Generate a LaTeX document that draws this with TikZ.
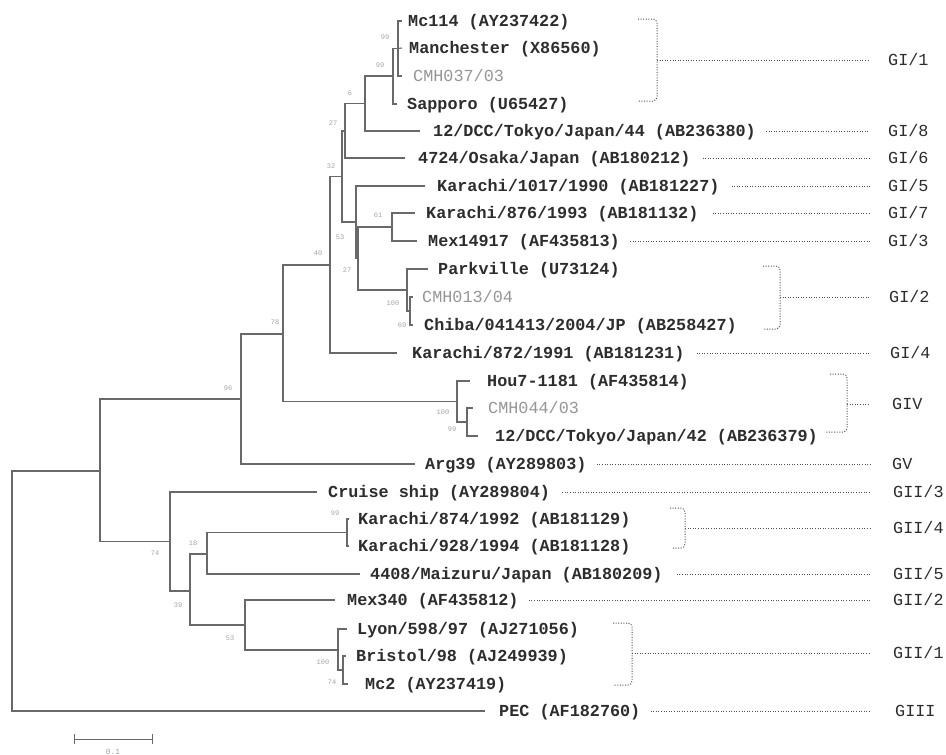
\documentclass[tikz,border=0pt]{standalone}
\usepackage{fontspec}
\newfontfamily\monof{Liberation Mono}
\definecolor{treec}{RGB}{105,105,105}
\definecolor{txtc}{RGB}{45,45,45}
\definecolor{cmhc}{RGB}{150,150,150}
\definecolor{bsc}{RGB}{165,165,165}
\definecolor{dotc}{RGB}{80,80,80}
\begin{document}
\begin{tikzpicture}[x=1pt,y=-1pt,
  br/.style={draw=treec, line width=1.1pt},
  leaf/.style={anchor=west, inner sep=0pt, text height=11pt, text depth=1pt, font=\monof\bfseries\fontsize{16.8}{18}\selectfont, text=txtc},
  cmh/.style={leaf, font=\monof\fontsize{16.8}{18}\selectfont, text=cmhc},
  grp/.style={anchor=west, inner sep=0pt, text height=11pt, text depth=1pt, font=\monof\fontsize{16.8}{18}\selectfont, text=txtc},
  bs/.style={inner sep=0pt, font=\monof\fontsize{7}{8}\selectfont, text=bsc},
  dotl/.style={draw=dotc, line width=1pt, dash pattern=on 1pt off 1.6pt},
  brk/.style={dotl, rounded corners=4pt},
]
\useasboundingbox[fill=white] (0,0) rectangle (946,755);

% ---------- internal nodes ----------
\coordinate (r0)    at (12,591.5);
\coordinate (n100)  at (100,471);
\coordinate (n96)   at (241,399);
\coordinate (n78)   at (283,334);
\coordinate (nGIV)  at (457,401.5);
\coordinate (nGIVb) at (467,422);
\coordinate (n40)   at (330,265);
\coordinate (n32)   at (342,176.5);
\coordinate (n27a)  at (345,131);
\coordinate (n6)    at (365,103.5);
\coordinate (n99a)  at (393,76);
\coordinate (n99b)  at (398,48.5);
\coordinate (n53a)  at (356,222);
\coordinate (n27b)  at (358,258.5);
\coordinate (n61)   at (392,227);
\coordinate (n100b) at (407,290);
\coordinate (n69)   at (410,311);
\coordinate (n74)   at (170,541.5);
\coordinate (n39)   at (190,591);
\coordinate (n18)   at (207,554);
\coordinate (nK)    at (347,532.5);
\coordinate (n53b)  at (245,625);
\coordinate (n100c) at (338,650);
\coordinate (n74b)  at (343,670);

% ---------- leaf tips ----------
\coordinate (tMc114) at (402,21);
\coordinate (tManc)  at (402,48);
\coordinate (tC037)  at (402,76);
\coordinate (tSapp)  at (397,104);
\coordinate (tT44)   at (420,131);
\coordinate (tOsaka) at (405,158);
\coordinate (tK1017) at (425,186);
\coordinate (tK876)  at (415,213);
\coordinate (tMex149) at (417,241);
\coordinate (tPark)  at (428,269);
\coordinate (tC013)  at (413,297);
\coordinate (tChiba) at (413,325);
\coordinate (tK872)  at (397,353);
\coordinate (tHou)   at (470,381);
\coordinate (tC044)  at (473,408);
\coordinate (tT42)   at (478,436);
\coordinate (tArg)   at (415,464);
\coordinate (tCruise) at (317,492);
\coordinate (tK874)  at (349,519);
\coordinate (tK928)  at (349,546);
\coordinate (tMaiz)  at (360,574);
\coordinate (tMex340) at (335,600);
\coordinate (tLyon)  at (347,629);
\coordinate (tBris)  at (346,656);
\coordinate (tMc2)   at (348,684);
\coordinate (tPEC)   at (485,711);

% ---------- branches ----------
\draw[br] (r0) |- (n100);   \draw[br] (r0) |- (tPEC);
\draw[br] (n100) |- (n96);  \draw[br] (n100) |- (n74);
\draw[br] (n96) |- (n78);   \draw[br] (n96) |- (tArg);
\draw[br] (n78) |- (n40);   \draw[br] (n78) |- (nGIV);
\draw[br] (nGIV) |- (tHou); \draw[br] (nGIV) |- (nGIVb);
\draw[br] (nGIVb) |- (tC044); \draw[br] (nGIVb) |- (tT42);
\draw[br] (n40) |- (n32);   \draw[br] (n40) |- (tK872);
\draw[br] (n32) |- (n27a);  \draw[br] (n32) |- (n53a);
\draw[br] (n27a) |- (n6);   \draw[br] (n27a) |- (tOsaka);
\draw[br] (n6) |- (n99a);   \draw[br] (n6) |- (tT44);
\draw[br] (n99a) |- (n99b); \draw[br] (n99a) |- (tSapp);
\draw[br] (n99b) |- (tMc114); \draw[br] (n99b) -- (tManc); \draw[br] (n99b) |- (tC037);
\draw[br] (n53a) |- (tK1017); \draw[br] (n53a) |- (n27b);
\draw[br] (n27b) |- (n61);  \draw[br] (n27b) |- (n100b);
\draw[br] (n61) |- (tK876); \draw[br] (n61) |- (tMex149);
\draw[br] (n100b) |- (tPark); \draw[br] (n100b) |- (n69);
\draw[br] (n69) |- (tC013); \draw[br] (n69) |- (tChiba);
\draw[br] (n74) |- (tCruise); \draw[br] (n74) |- (n39);
\draw[br] (n39) |- (n18);   \draw[br] (n39) |- (n53b);
\draw[br] (n18) |- (nK);    \draw[br] (n18) |- (tMaiz);
\draw[br] (nK) |- (tK874);  \draw[br] (nK) |- (tK928);
\draw[br] (n53b) |- (tMex340); \draw[br] (n53b) |- (n100c);
\draw[br] (n100c) |- (tLyon); \draw[br] (n100c) |- (n74b);
\draw[br] (n74b) |- (tBris); \draw[br] (n74b) |- (tMc2);

% ---------- bootstrap values ----------
\node[bs] (b1) at (385,37) {99};
\node[bs] (b2) at (380,65) {99};
\node[bs] (b3) at (350,93) {6};
\node[bs] (b4) at (333,123) {27};
\node[bs] (b5) at (331,166) {32};
\node[bs] (b6) at (340,237) {53};
\node[bs] (b7) at (378,215) {61};
\node[bs] (b8) at (347,270) {27};
\node[bs] (b9) at (393,303) {100};
\node[bs] (b10) at (402,325) {69};
\node[bs] (b11) at (318,253) {40};
\node[bs] (b12) at (275,322) {78};
\node[bs] (b13) at (228,388) {96};
\node[bs] (b14) at (443,412) {100};
\node[bs] (b15) at (452,429) {99};
\node[bs] (b16) at (335,513) {99};
\node[bs] (b17) at (155,553) {74};
\node[bs] (b18) at (193,543) {18};
\node[bs] (b19) at (178,605) {39};
\node[bs] (b20) at (230,638) {53};
\node[bs] (b21) at (323,662) {100};
\node[bs] (b22) at (332,682) {74};

% ---------- leaf labels ----------
\node[leaf] (lMc114) at (408,21) {Mc114 (AY237422)};
\node[leaf] (lManc) at (409,48) {Manchester (X86560)};
\node[cmh]  (lC037) at (413,76) {CMH037/03};
\node[leaf] (lSapp) at (407,104) {Sapporo (U65427)};
\node[leaf] (lT44) at (433,131) {12/DCC/Tokyo/Japan/44 (AB236380)};
\node[leaf] (lOsaka) at (418,158) {4724/Osaka/Japan (AB180212)};
\node[leaf] (lK1017) at (437,186) {Karachi/1017/1990 (AB181227)};
\node[leaf] (lK876) at (426,213) {Karachi/876/1993 (AB181132)};
\node[leaf] (lMex149) at (428,241) {Mex14917 (AF435813)};
\node[leaf] (lPark) at (438,269) {Parkville (U73124)};
\node[cmh]  (lC013) at (422,297) {CMH013/04};
\node[leaf] (lChiba) at (424,325) {Chiba/041413/2004/JP (AB258427)};
\node[leaf] (lK872) at (412,353) {Karachi/872/1991 (AB181231)};
\node[leaf] (lHou) at (487,381) {Hou7-1181 (AF435814)};
\node[cmh]  (lC044) at (488,408) {CMH044/03};
\node[leaf] (lT42) at (495,436) {12/DCC/Tokyo/Japan/42 (AB236379)};
\node[leaf] (lArg) at (425,464) {Arg39 (AY289803)};
\node[leaf] (lCruise) at (328,492) {Cruise ship (AY289804)};
\node[leaf] (lK874) at (358,519) {Karachi/874/1992 (AB181129)};
\node[leaf] (lK928) at (358,546) {Karachi/928/1994 (AB181128)};
\node[leaf] (lMaiz) at (370,574) {4408/Maizuru/Japan (AB180209)};
\node[leaf] (lMex340) at (347,600) {Mex340 (AF435812)};
\node[leaf] (lLyon) at (357,629) {Lyon/598/97 (AJ271056)};
\node[leaf] (lBris) at (356,656) {Bristol/98 (AJ249939)};
\node[leaf] (lMc2) at (365,684) {Mc2 (AY237419)};
\node[leaf] (lPEC) at (499,711) {PEC (AF182760)};

% ---------- genogroup labels ----------
\node[grp] (gI1) at (888,60) {GI/1};
\node[grp] (gI8) at (888,131) {GI/8};
\node[grp] (gI6) at (888,158) {GI/6};
\node[grp] (gI5) at (888,186) {GI/5};
\node[grp] (gI7) at (888,213) {GI/7};
\node[grp] (gI3) at (888,241) {GI/3};
\node[grp] (gI2) at (889,297) {GI/2};
\node[grp] (gI4) at (890,353) {GI/4};
\node[grp] (gIV) at (892,404) {GIV};
\node[grp] (gV) at (892,464) {GV};
\node[grp] (gII3) at (893,492) {GII/3};
\node[grp] (gII4) at (893,528) {GII/4};
\node[grp] (gII5) at (893,574) {GII/5};
\node[grp] (gII2) at (893,600) {GII/2};
\node[grp] (gII1) at (893,653) {GII/1};
\node[grp] (gIII) at (895,711) {GIII};

% ---------- brackets ----------
\draw[brk] (638,19) -- (657,19) -- (657,101) -- (638,101);
\coordinate (k1) at (657,60);
\draw[brk] (763,266) -- (780,266) -- (780,329) -- (763,329);
\coordinate (k2) at (780,297);
\draw[brk] (830,374) -- (847,374) -- (847,432) -- (825,432);
\coordinate (kIV) at (847,404);
\draw[brk] (670,508) -- (685,508) -- (685,548) -- (672,548);
\coordinate (kII4) at (685,528);
\draw[brk] (613,623) -- (632,623) -- (632,685) -- (613,685);
\coordinate (kII1) at (632,653);

% ---------- dotted connectors ----------
\draw[dotl] (k1) -- ([xshift=-18pt]gI1.west);
\draw[dotl] ([xshift=10pt]lT44.east) -- ([xshift=-18pt]gI8.west);
\draw[dotl] ([xshift=12pt]lOsaka.east) -- ([xshift=-18pt]gI6.west);
\draw[dotl] ([xshift=12pt]lK1017.east) -- ([xshift=-18pt]gI5.west);
\draw[dotl] ([xshift=14pt]lK876.east) -- ([xshift=-18pt]gI7.west);
\draw[dotl] ([xshift=10pt]lMex149.east) -- ([xshift=-18pt]gI3.west);
\draw[dotl] (k2) -- ([xshift=-19pt]gI2.west);
\draw[dotl] ([xshift=12pt]lK872.east) -- ([xshift=-20pt]gI4.west);
\draw[dotl] (kIV) -- ([xshift=-22pt]gIV.west);
\draw[dotl] ([xshift=10pt]lArg.east) -- ([xshift=-22pt]gV.west);
\draw[dotl] ([xshift=12pt]lCruise.east) -- ([xshift=-23pt]gII3.west);
\draw[dotl] (kII4) -- ([xshift=-23pt]gII4.west);
\draw[dotl] ([xshift=14pt]lMaiz.east) -- ([xshift=-23pt]gII5.west);
\draw[dotl] ([xshift=10pt]lMex340.east) -- ([xshift=-23pt]gII2.west);
\draw[dotl] (kII1) -- ([xshift=-23pt]gII1.west);
\draw[dotl] ([xshift=10pt]lPEC.east) -- ([xshift=-25pt]gIII.west);

% ---------- scale bar ----------
\coordinate (sL) at (74,739);
\coordinate (sR) at (152,739);
\draw[br, line width=1pt] (sL) -- (sR);
\draw[br, line width=1pt] ([yshift=5pt]sL) -- ([yshift=-5pt]sL);
\draw[br, line width=1pt] ([yshift=5pt]sR) -- ([yshift=-5pt]sR);
\node[bs, font=\monof\fontsize{8}{9}\selectfont] (sc) at (113,752) {0.1};
\end{tikzpicture}
\end{document}
